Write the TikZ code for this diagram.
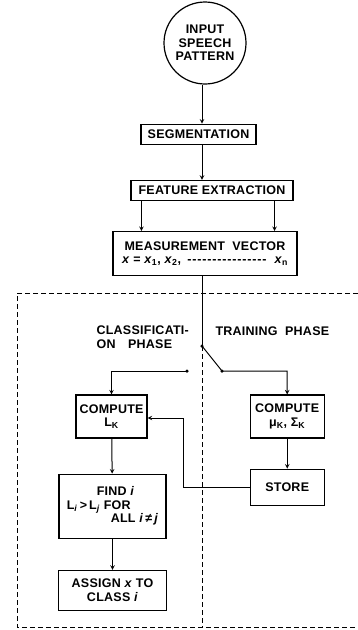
\documentclass[tikz,border=0pt]{standalone}
\usepackage{fontspec}
\usepackage{tikz}
\usetikzlibrary{arrows,positioning,calc}
\newfontfamily\lettering[LetterSpace=2]{Liberation Sans Bold}
\newcommand{\sub}[1]{\textsubscript{#1}}
\tikzset{
    > = stealth,
    lettered/.style = {
        font = \lettering\fontsize{12.5}{13.5}\selectfont
    },
    blockbox/.style = {
        draw = black,
        rectangle,
        line width = 1.2pt,
        inner sep = 2pt,
        align = center,
        lettered
    },
    wire/.style = {
        draw = black,
        line width = 1pt
    },
    contact/.style = {
        circle,
        fill = black,
        inner sep = 0pt,
        minimum size = 3.5pt
    },
    phase/.style = {
        draw = black,
        line width = 0.8pt,
        dash pattern = on 5pt off 3pt
    }
}
\begin{document}
\begin{tikzpicture}[x=1pt, y=-1pt]
    \useasboundingbox (0,0) rectangle (358,630);
%main chain
    \node (inp) [draw, circle, line width = 1.2pt, minimum size = 82pt, inner sep = 0pt, align=center, lettered] at (205,43) {INPUT\\SPEECH\\PATTERN};
    \node (seg) [blockbox, minimum width = 115pt, minimum height = 20pt, below = 39pt of inp, xshift = -6.5pt] {SEGMENTATION};
    \node (feat) [blockbox, minimum width = 162pt, minimum height = 20pt, below = 35pt of seg, xshift = 13.5pt] {FEATURE EXTRACTION};
    \node (meas) [blockbox, minimum width = 184pt, minimum height = 44pt, below = 30pt of feat, xshift = -7pt] {MEASUREMENT\ \ VECTOR\\\makebox[166pt][l]{\textit{x} = \textit{x}\sub{1}, \textit{x}\sub{2},\ \leaders\hbox to 5pt{\hss-\hss}\hfill\ \textit{x}\sub{n}}};
    \coordinate (tr) at (202,0);
    \draw[wire, ->] (inp.south -| tr) -- (seg.north -| tr);
    \draw[wire, ->] (seg.south -| tr) -- (feat.north -| tr);
    \draw[wire, ->] ([xshift=11pt]feat.south west) -- ([xshift=11pt]feat.south west |- meas.north);
    \draw[wire, ->] ([xshift=-19pt]feat.south east) -- ([xshift=-19pt]feat.south east |- meas.north);
%switch
    \coordinate (pv) at (202,346);
    \coordinate (sw) at (222,371);
    \coordinate (ct) at (187,371);
    \draw[wire] (meas.south -| pv) -- (pv);
%classification side
    \node (cl) [blockbox, minimum width = 71pt, minimum height = 43pt] at (111.5,416.5) {COMPUTE\\L\sub{K}};
    \node (find) [blockbox, minimum width = 107pt, minimum height = 64pt, align = left, below = 35pt of cl, xshift = 1pt] {\hspace*{30pt}FIND \textit{i}\\L\sub{\textit{i}}\,>\,L\sub{\textit{j}} FOR\\\hspace*{44pt}ALL \textit{i}\,≠\,\textit{j}};
    \node (asg) [blockbox, minimum width = 108pt, minimum height = 40pt, below = 31pt of find] {ASSIGN \textit{x} TO\\CLASS \textit{i}};
%training side
    \node (mu) [blockbox, minimum width = 74pt, minimum height = 43pt, right = 102pt of cl] {COMPUTE\\μ\sub{K}, Σ\sub{K}};
    \node (store) [blockbox, minimum width = 74pt, minimum height = 36pt, below = 30pt of mu] {STORE};
    \draw[wire, ->] (pv) -- (sw) -| (mu.north);
    \draw[wire, ->] (ct) -| (cl.north);
    \node[contact] (pvDot) at (pv) {};
    \node[contact] (swDot) at (sw) {};
    \node[contact] (ctDot) at (ct) {};
    \draw[wire, ->] (cl) -- (find);
    \draw[wire, ->] (find) -- (asg);
    \draw[wire, ->] (mu) -- (store);
    \coordinate (jn) at (183,418);
    \draw[wire, ->] (store.west) -| (jn) -- (jn -| cl.east);
%enclosed phases
    \draw[phase] (358,293) -- (17,293) -- (17,627) -- (358,627);
    \draw[phase] (pv) -- (pv |- 0,627);
    \node (clsLabel) [anchor = west, align = left, lettered] at (93,337) {CLASSIFICATI-\\ON\quad PHASE};
    \node (trnLabel) [anchor = west, lettered] at (212,331) {TRAINING\ \ PHASE};
\end{tikzpicture}
\end{document}
